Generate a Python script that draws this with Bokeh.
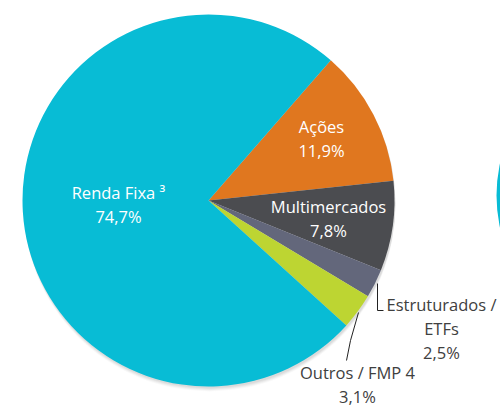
import math
from bokeh.plotting import figure
from bokeh.models import Range1d, ColumnDataSource
from bokeh.core.properties import value
from bokeh.embed import file_html
from bokeh.resources import INLINE

# ---- data ----
categories = ["Ações", "Multimercados", "Estruturados / ETFs", "Outros / FMP 4", "Renda Fixa ³"]
shares = [11.9, 7.8, 2.5, 3.1, 74.7]
colors = ["#E0771F", "#4B4C50", "#63677B", "#BDD532", "#08BCD5"]
label_lines = [["Ações", "11,9%"],
               ["Multimercados", "7,8%"],
               ["Estruturados /", "ETFs", "2,5%"],
               ["Outros / FMP 4", "3,1%"],
               ["Renda Fixa ³", "74,7%"]]

# second (partially visible) pie on the right edge
second_pie_share = [100.0]

# ---- layout (pixel-like coordinates, y measured from the bottom) ----
W, H = 500, 408
cx, cy, R = 208, 208, 186          # pie centre/radius
start_deg = 48.9                    # first slice starts here, going clockwise
label_pos = [(321, 270), (328, 190), (441, 80), (357, 24), (118, 204)]
line_gap = 24
cx2, cy2, R2 = 646, 213, 150

p = figure(width=W, height=H, output_backend="svg", toolbar_location=None,
           x_range=Range1d(0, W), y_range=Range1d(0, H), min_border=0)
p.axis.visible = False
p.grid.visible = False
p.outline_line_color = None
p.background_fill_color = "white"
p.border_fill_color = "white"

# soft shadows
for off, a in [(5, 0.05), (4, 0.07), (3, 0.09), (2, 0.1)]:
    p.circle(x=[cx + 1], y=[cy - off], radius=R, fill_color="#808080",
             fill_alpha=a, line_color=None)
    p.circle(x=[cx2 + 1], y=[cy2 - off], radius=R2, fill_color="#808080",
             fill_alpha=a, line_color=None)

# second pie (only its left edge shows)
p.wedge(x=cx2, y=cy2, radius=R2, start_angle=0,
        end_angle=2 * math.pi * second_pie_share[0] / 100.0,
        fill_color=colors[4], line_color=None)

# main pie
starts, ends = [], []
cur = math.radians(start_deg)
for s in shares:
    span = 2 * math.pi * s / 100.0
    ends.append(cur)
    starts.append(cur - span)
    cur -= span
src = ColumnDataSource(dict(start=starts, end=ends, color=colors, cat=categories))
p.wedge(x=cx, y=cy, radius=R, start_angle="start", end_angle="end",
        fill_color="color", line_color=None, source=src)

# leader lines
p.line(x=[377, 377, 383], y=[H - 283, H - 310, H - 310], line_color="#222222", line_width=1)
p.line(x=[358, 350, 346], y=[H - 312, H - 340, H - 360], line_color="#222222", line_width=1)

# labels
text_colors = ["white", "white", "#404040", "#404040", "white"]
xs, ys, ts, tc = [], [], [], []
for (lx, ly), lines, c in zip(label_pos, label_lines, text_colors):
    n = len(lines)
    for i, t in enumerate(lines):
        xs.append(lx)
        ys.append(ly + (n - 1) * line_gap / 2 - i * line_gap)
        ts.append(t)
        tc.append(c)
p.text(x=xs, y=ys, text=ts, text_color=tc, text_align="center",
       text_baseline="middle", text_font=value("Open Sans"), text_font_size="16.5px")

open("out.html", "w").write(file_html(p, INLINE))
